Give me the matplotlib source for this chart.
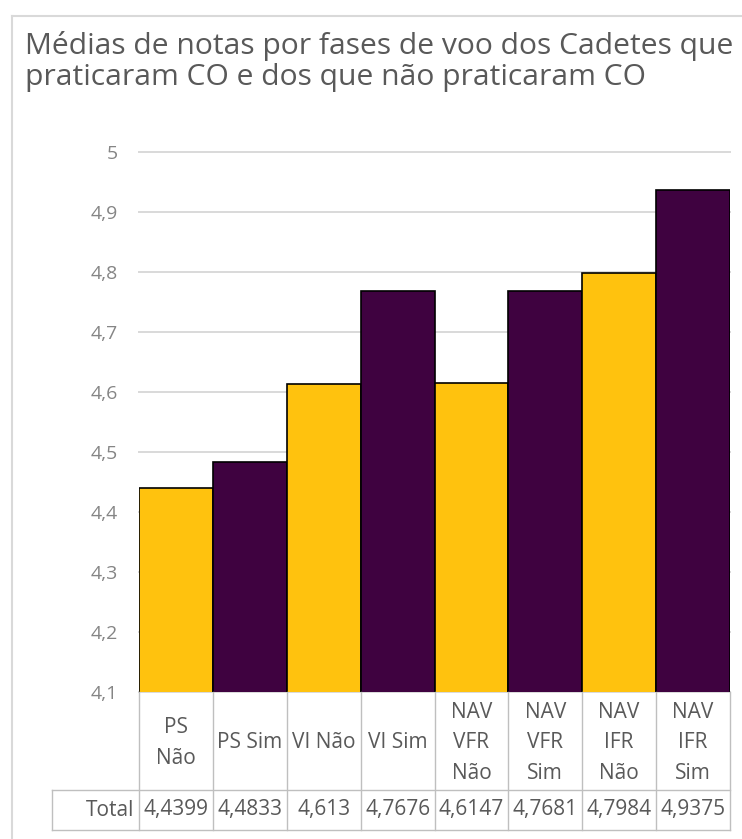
import matplotlib
matplotlib.use("Agg")
import matplotlib.pyplot as plt
from matplotlib.lines import Line2D
from matplotlib.transforms import blended_transform_factory

plt.rcParams["font.family"] = ["Open Sans", "DejaVu Sans"]

# ---- data ----
title = "Médias de notas por fases de voo dos Cadetes que\npraticaram CO e dos que não praticaram CO"
categories = ["PS\nNão", "PS Sim", "VI Não", "VI Sim",
              "NAV\nVFR\nNão", "NAV\nVFR\nSim", "NAV\nIFR\nNão", "NAV\nIFR\nSim"]
values = [4.4399, 4.4833, 4.613, 4.7676, 4.6147, 4.7681, 4.7984, 4.9375]
value_labels = ["4,4399", "4,4833", "4,613", "4,7676", "4,6147", "4,7681", "4,7984", "4,9375"]
row_label = "Total"
yticks = [4.1, 4.2, 4.3, 4.4, 4.5, 4.6, 4.7, 4.8, 4.9, 5.0]
ytick_labels = ["4,1", "4,2", "4,3", "4,4", "4,5", "4,6", "4,7", "4,8", "4,9", "5"]

# ---- style ----
YELLOW = "#FFC20E"
PURPLE = "#3F0240"
TXT = "#595959"
TICK_TXT = "#858585"
GRID = "#D9D9D9"
TABLE_LINE = "#BFBFBF"

W, H = 742, 839
fig = plt.figure(figsize=(W / 100, H / 100), dpi=100)


def fx(px):
    return px / W


def fy(py):
    return 1 - py / H


ax = fig.add_axes([fx(139), fy(692), (730 - 139) / W, (692 - 152) / H])
xs = list(range(len(values)))
colors = [YELLOW if i % 2 == 0 else PURPLE for i in xs]
ax.bar(xs, values, width=1.0, color=colors, edgecolor="black", linewidth=1.2, zorder=3)
ax.set_xlim(-0.5, len(values) - 0.5)
ax.set_ylim(4.1, 5.0)
ax.set_yticks(yticks, ytick_labels)
ax.set_xticks([])
ax.tick_params(axis="y", length=0, pad=15, labelsize=14, labelcolor=TICK_TXT)
for s in ax.spines.values():
    s.set_visible(False)
ax.yaxis.grid(True, color=GRID, linewidth=1.4)
ax.set_axisbelow(True)
for gl in ax.get_ygridlines():
    gl.set_clip_on(False)

# ---- frame ----
fig.add_artist(Line2D([fx(12), fx(12)], [fy(16), 0], transform=fig.transFigure, color=GRID, lw=1.5))
fig.add_artist(Line2D([fx(12), 1], [fy(16), fy(16)], transform=fig.transFigure, color=GRID, lw=1.5))

# ---- title ----
fig.text(fx(25), fy(31), title, ha="left", va="top", fontsize=21.6, color=TXT, linespacing=1.08)

# ---- data table ----
bt = blended_transform_factory(ax.transData, fig.transFigure)
for i in range(len(values) + 1):
    xb = i - 0.5
    fig.add_artist(Line2D([xb, xb], [fy(692), fy(830)], transform=bt, color=TABLE_LINE, lw=1.0))
fig.add_artist(Line2D([fx(52), fx(52)], [fy(790), fy(830)], transform=fig.transFigure, color=TABLE_LINE, lw=1.0))
for yy in (790, 830):
    fig.add_artist(Line2D([fx(52), fx(730)], [fy(yy), fy(yy)], transform=fig.transFigure,
                          color=TABLE_LINE, lw=1.0))

for i, lab in enumerate(categories):
    fig.text(i, fy(743), lab, transform=bt, ha="center", va="center", fontsize=15,
             color=TXT, linespacing=1.6)
for i, lab in enumerate(value_labels):
    fig.text(i, fy(810), lab, transform=bt, ha="center", va="center", fontsize=15, color=TXT)
fig.text(fx(134), fy(810), row_label, ha="right", va="center", fontsize=15, color=TXT)

fig.savefig("out.png", dpi=100)
